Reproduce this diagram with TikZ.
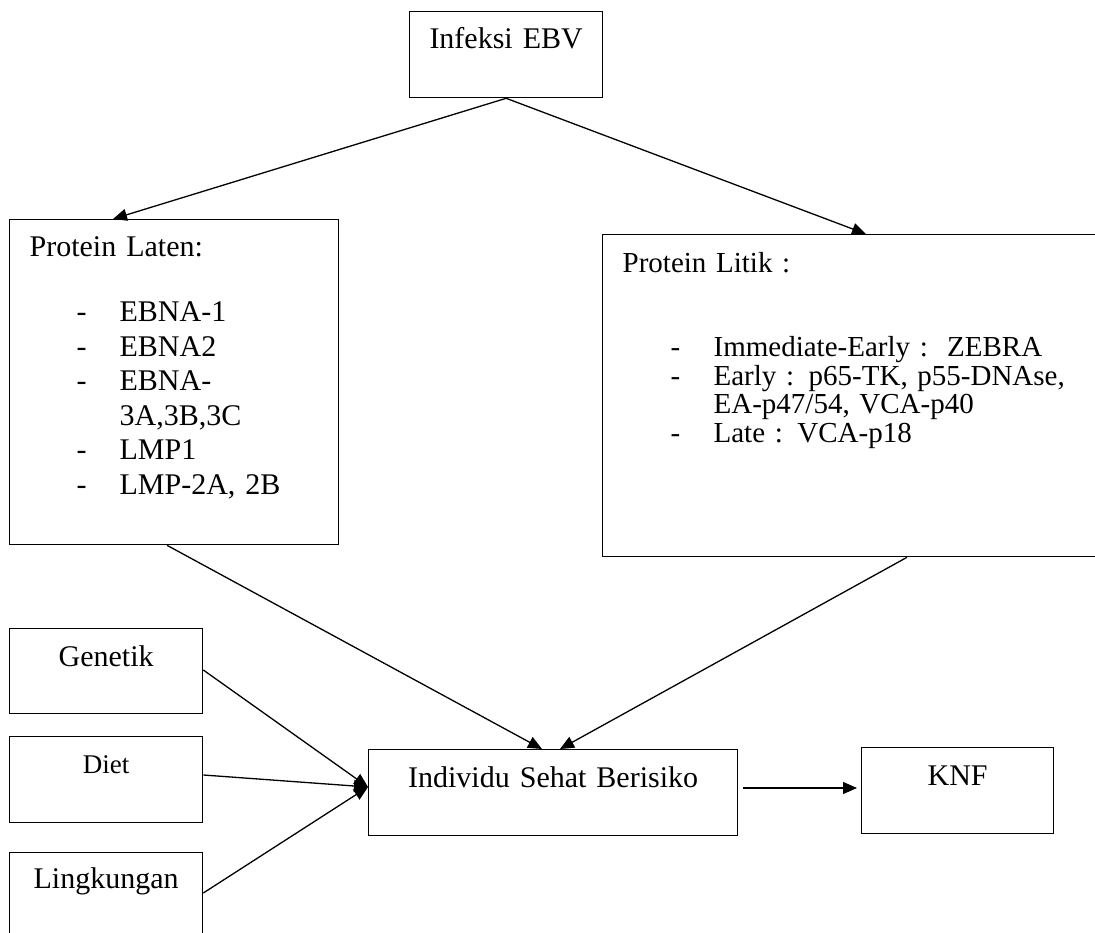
\documentclass[tikz,border=0pt]{standalone}
\usepackage{fontspec}
\setmainfont{Liberation Serif}
\usetikzlibrary{arrows.meta}

\newcommand{\itm}[1]{\hspace*{47pt}\makebox[43pt][l]{-}#1}

\begin{document}
\begin{tikzpicture}[x=1pt,y=-1pt,
  box/.style={draw,line width=1.3pt,inner sep=0pt,anchor=north west,align=center,
    font=\fontsize{30}{34.5}\selectfont},
  arr/.style={line width=1.3pt,-{Triangle[length=14pt,width=12pt]}}]
\clip (0,0) rectangle (1095,933);
\node[box,text width=193pt,text height=37pt,text depth=49pt] (infeksi) at (409,11) {Infeksi EBV};
\node[box,align=left,inner xsep=20pt,text width=289pt,text height=37pt,text depth=288pt] (laten) at (9,219)
  {Protein Laten:\\[30.5pt]
   \itm{EBNA-1}\\
   \itm{EBNA2}\\
   \itm{EBNA-}\\
   \hspace*{90pt}3A,3B,3C\\
   \itm{LMP1}\\
   \itm{LMP-2A, 2B}};
\node[box,align=left,inner xsep=20pt,text width=468pt,text height=38pt,text depth=284pt,
  font=\fontsize{29}{28.5}\selectfont] (litik) at (602,234)
  {Protein Litik :\\[55.5pt]
   \hspace*{1pt}\itm{Immediate-Early :~~ZEBRA}\\
   \hspace*{1pt}\itm{Early : p65-TK, p55-DNAse,}\\
   \hspace*{91pt}EA-p47/54, VCA-p40\\
   \hspace*{1pt}\itm{Late : VCA-p18}};
\node[box,text width=193pt,text height=38pt,text depth=47pt] (genetik) at (9,628) {Genetik};
\node[box,text width=193pt,text height=37pt,text depth=49pt,font=\fontsize{27}{31}\selectfont] (diet) at (9,736) {Diet};
\node[box,text width=193pt,text height=36pt,text depth=80pt] (lingkungan) at (9,852) {Lingkungan};
\node[box,text width=369pt,text height=38pt,text depth=48pt] (indiv) at (368,749) {Individu Sehat Berisiko};
\node[box,text width=192pt,text height=38pt,text depth=48pt] (knf) at (861,747) {KNF};

\draw[arr] (infeksi.south) -- ([xshift=104pt]laten.north west);
\draw[arr] (infeksi.south) -- ([xshift=264pt]litik.north west);
\draw[arr] ([xshift=158pt]laten.south west) -- ([xshift=174pt]indiv.north west);
\draw[arr] ([xshift=305pt]litik.south west) -- ([xshift=192pt]indiv.north west);
\draw[arr] ([yshift=-42pt]genetik.north east) -- ([yshift=-38pt]indiv.north west);
\draw[arr] ([yshift=-39pt]diet.north east) -- ([yshift=-38pt]indiv.north west);
\draw[arr] ([yshift=-41pt]lingkungan.north east) -- ([yshift=-38pt]indiv.north west);
\draw[arr,shorten <=5pt,shorten >=4pt] ([yshift=-39pt]indiv.north east) -- ([yshift=-41pt]knf.north west);
\end{tikzpicture}
\end{document}
